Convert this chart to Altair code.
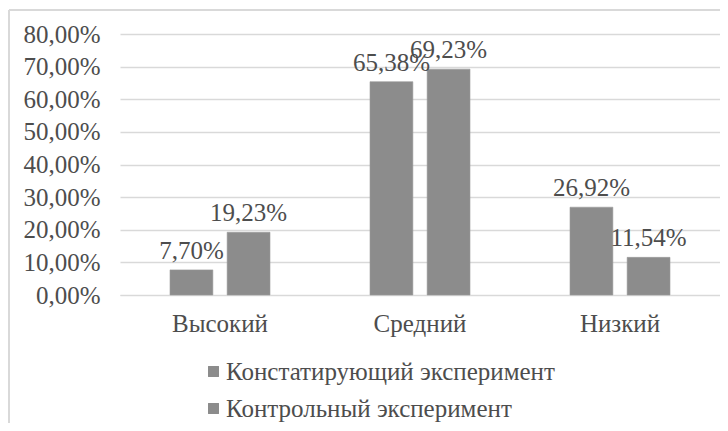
import altair as alt
import pandas as pd

categories = ["Высокий", "Средний", "Низкий"]
series = ["Констатирующий эксперимент", "Контрольный эксперимент"]
values_const = [0.0770, 0.6538, 0.2692]
values_control = [0.1923, 0.6923, 0.1154]
y_ticks = [0, 0.1, 0.2, 0.3, 0.4, 0.5, 0.6, 0.7, 0.8]

rows = []
for c, v1, v2 in zip(categories, values_const, values_control):
    rows.append({"cat": c, "series": series[0], "value": v1})
    rows.append({"cat": c, "series": series[1], "value": v2})
df = pd.DataFrame(rows)

FONT = "Liberation Serif"
TXT = "#4d4d4d"
GRID = "#d9d9d9"
BAR = "#8c8c8c"
FS = 25

base = alt.Chart(df).transform_calculate(
    label="replace(format(datum.value, '.2%'), '.', ',')"
).encode(
    x=alt.X("cat:N", sort=categories,
            scale=alt.Scale(paddingInner=0.5, paddingOuter=0.25),
            axis=alt.Axis(title=None, labelAngle=0, ticks=False, domainColor=GRID,
                          labelPadding=16, labelFontSize=FS, labelFont=FONT,
                          labelColor=TXT)),
    xOffset=alt.XOffset("series:N", sort=series,
                        scale=alt.Scale(paddingInner=0.25, paddingOuter=0)),
    y=alt.Y("value:Q", scale=alt.Scale(domain=[0, 0.8]),
            axis=alt.Axis(title=None, values=y_ticks, domain=False, ticks=False,
                          labelExpr="replace(format(datum.value, '.2%'), '.', ',')",
                          labelFontSize=FS, labelFont=FONT, labelColor=TXT,
                          labelPadding=20, gridColor=GRID, gridWidth=1.3)),
)

bars = base.mark_bar(stroke="#9a9a9a", strokeWidth=0.6).encode(
    color=alt.Color("series:N", sort=series,
                    scale=alt.Scale(domain=series, range=[BAR, BAR]),
                    legend=alt.Legend(title=None, orient="none", legendX=81, legendY=325,
                                      direction="vertical", symbolType="square",
                                      symbolSize=120, symbolStrokeWidth=0,
                                      labelFontSize=25, labelFont=FONT, labelLimit=0,
                                      labelColor=TXT, rowPadding=11, labelOffset=0))
)

labels = base.mark_text(baseline="bottom", dy=-6, font=FONT, fontSize=FS,
                        color=TXT).encode(text="label:N")

# chart frame (decoration, outside the plot area)
frame_left = alt.Chart(df).mark_rule(color=GRID, strokeWidth=1.5).encode(
    x=alt.value(-111), y=alt.value(-24), y2=alt.value(400))
frame_top = alt.Chart(df).mark_rule(color=GRID, strokeWidth=1.5).encode(
    x=alt.value(-111), x2=alt.value(610), y=alt.value(-24))

chart = alt.layer(frame_left, frame_top, bars, labels).properties(
    width=600, height=261,
    autosize=alt.AutoSizeParams(type="none"),
    padding={"left": 112, "top": 26, "right": 0, "bottom": 128},
).configure(background="white", font=FONT).configure_view(stroke=None)

chart.save("out.html", embed_options={"renderer": "svg", "actions": False})
